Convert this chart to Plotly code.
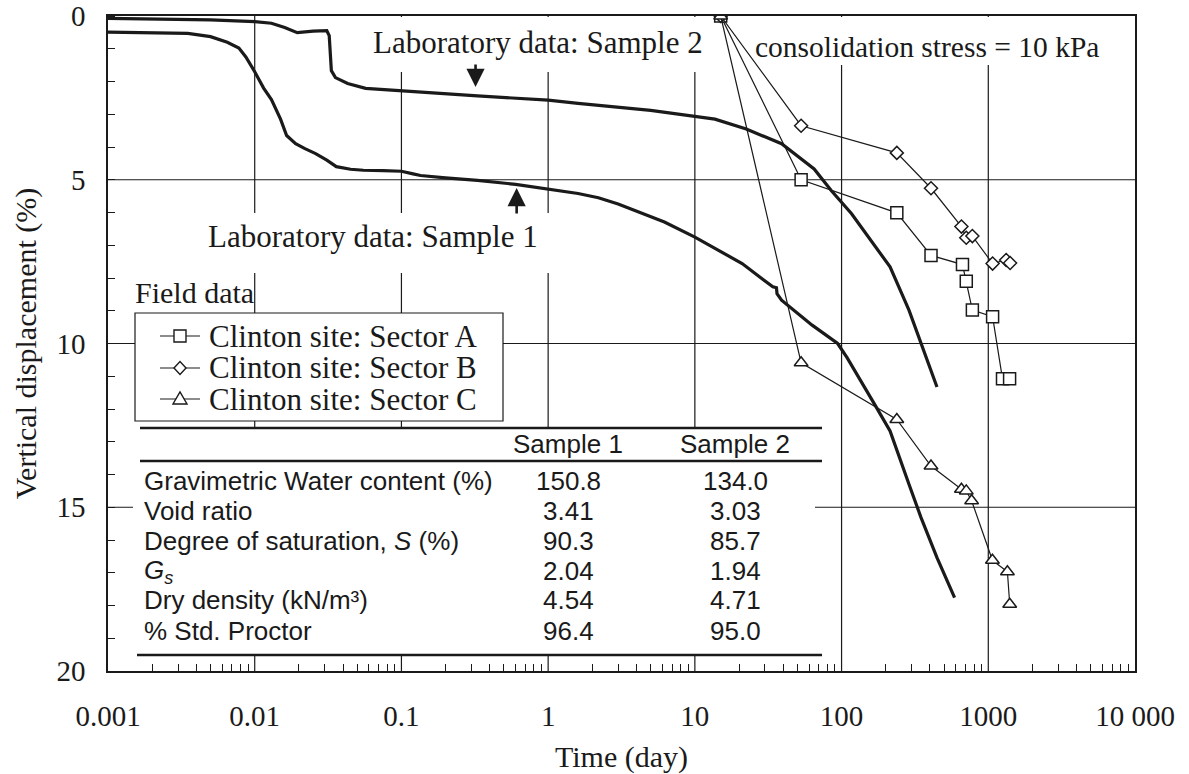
import numpy as np
import plotly.graph_objects as go

# ---------------- data ----------------
# Laboratory consolidation curves (time in days, vertical displacement in %)
lab1_time = [0.001, 0.002, 0.0035, 0.005, 0.0065, 0.0078, 0.0087, 0.01, 0.0115, 0.013,
             0.015, 0.0165, 0.019, 0.022, 0.026, 0.031, 0.036, 0.045, 0.055, 0.075,
             0.1, 0.12, 0.135, 0.2, 0.33, 0.6, 1.0, 1.6, 2.2, 3.0, 6.2, 10, 21, 34,
             36, 36.3, 39, 63, 94, 109, 168, 214, 288, 347, 447, 589]
lab1_disp = [0.49, 0.50, 0.53, 0.63, 0.80, 0.98, 1.25, 1.70, 2.20, 2.55,
             3.15, 3.65, 3.90, 4.05, 4.20, 4.40, 4.60, 4.68, 4.71, 4.72,
             4.74, 4.82, 4.87, 4.94, 5.02, 5.14, 5.28, 5.42, 5.55, 5.74, 6.29, 6.75, 7.56, 8.27,
             8.30, 8.48, 8.68, 9.44, 10.0, 10.43, 11.86, 12.67, 14.3, 15.3, 16.54, 17.76]

lab2_time = [0.001, 0.005, 0.01, 0.013, 0.016, 0.0195, 0.025, 0.031, 0.0322, 0.0328,
             0.0333, 0.0355, 0.043, 0.057, 0.1, 0.33, 1.0, 1.6, 5.0, 10, 13.7, 22.4,
             39, 65, 85, 117, 170, 214, 288, 347, 447]
lab2_disp = [0.07, 0.12, 0.17, 0.22, 0.35, 0.51, 0.46, 0.45, 0.60, 1.20,
             1.67, 1.88, 2.06, 2.21, 2.29, 2.44, 2.57, 2.67, 2.88, 3.05, 3.15, 3.45,
             3.90, 4.67, 5.33, 6.04, 7.06, 7.66, 8.98, 10.0, 11.33]

# Field settlement records, Clinton site
sectorA_time = [15, 53, 238, 407, 667, 708, 779, 1070, 1250, 1397]
sectorA_disp = [0, 5.0, 6.01, 7.31, 7.59, 8.1, 8.98, 9.18, 11.08, 11.08]
sectorB_time = [15, 53, 238, 407, 656, 708, 779, 1070, 1324, 1408]
sectorB_disp = [0, 3.35, 4.18, 5.26, 6.43, 6.77, 6.72, 7.56, 7.45, 7.54]
sectorC_time = [15, 53, 238, 407, 656, 708, 770, 1067, 1350, 1400]
sectorC_disp = [0, 10.59, 12.32, 13.74, 14.45, 14.5, 14.8, 16.62, 16.97, 17.96]

# Sample properties table
table_columns = ["Sample 1", "Sample 2"]
table_props = ["Gravimetric Water content (%)", "Void ratio",
               "Degree of saturation, <i>S</i> (%)", "<i>G<sub>s</sub></i>",
               "Dry density (kN/m³)", "% Std. Proctor"]
sample1_vals = ["150.8", "3.41", "90.3", "2.04", "4.54", "96.4"]
sample2_vals = ["134.0", "3.03", "85.7", "1.94", "4.71", "95.0"]

# Axis ticks
x_tickvals = [0.001, 0.01, 0.1, 1, 10, 100, 1000, 10000]
x_ticktext = ["0.001", "0.01", "0.1", "1", "10", "100", "1000", "10 000"]
y_tickvals = [0, 5, 10, 15, 20]

# Arrow pointers to the laboratory curves
arrow_time = [0.32, 0.61]
arrow_disp = [2.17, 5.25]

# ---------------- layout helpers ----------------
W, H = 1189, 774
ML, MR, MT, MB = 108, 54, 16, 103
PW = W - ML - MR
PH = H - MT - MB
XLOG = (-3, 4)
YRANGE = (20, 0)

def px(xp):
    """figure pixel column -> fraction of the x domain"""
    return (xp - ML) / PW

def py(yp):
    """figure pixel row -> fraction of the y domain"""
    return (MT + PH - yp) / PH

SERIF = "Liberation Serif, Times New Roman, serif"
SANS = "Liberation Sans, Arial, sans-serif"
INK = "#1a1a1a"
XR, YR = "x domain", "y domain"

fig = go.Figure()

for t, d in [(lab1_time, lab1_disp), (lab2_time, lab2_disp)]:
    fig.add_trace(go.Scatter(x=t, y=d, mode="lines", showlegend=False,
                             line=dict(color=INK, width=3.2)))

for t, d, sym, sz in [(sectorA_time, sectorA_disp, "square", 12),
                      (sectorB_time, sectorB_disp, "diamond", 10),
                      (sectorC_time, sectorC_disp, "triangle-up", 12)]:
    fig.add_trace(go.Scatter(x=t, y=d, mode="lines+markers", showlegend=False,
                             line=dict(color=INK, width=1.2),
                             marker=dict(symbol=sym, size=sz, color="white",
                                         line=dict(color=INK, width=1.5))))

shapes = []

# grid lines (drawn under the label backgrounds, which are drawn under the data)
for v in x_tickvals[1:-1]:
    f = (np.log10(v) - XLOG[0]) / (XLOG[1] - XLOG[0])
    shapes.append(dict(type="line", xref=XR, yref=YR, x0=f, x1=f, y0=0, y1=1,
                       line=dict(color=INK, width=1.2), layer="below"))
for v in y_tickvals[1:-1]:
    f = (v - YRANGE[0]) / (YRANGE[1] - YRANGE[0])
    shapes.append(dict(type="line", xref=XR, yref=YR, x0=0, x1=1, y0=f, y1=f,
                       line=dict(color=INK, width=1.2), layer="below"))

def white_box(x0, y0, x1, y1, border=False, layer="below"):
    shapes.append(dict(type="rect", xref=XR, yref=YR,
                       x0=px(x0), x1=px(x1), y0=py(y1), y1=py(y0),
                       fillcolor="white", layer=layer,
                       line=dict(color=INK if border else "rgba(0,0,0,0)",
                                 width=1.2 if border else 0)))

# label backgrounds that interrupt the grid
white_box(365, 17, 712, 72)
white_box(745, 17, 1110, 65)
white_box(200, 213, 556, 273)
# legend frame
white_box(135, 313, 503, 421, border=True)
# table background
white_box(133, 428, 815, 656)

# table rules
for x0, yline in [(140, 428), (140, 461), (137, 655)]:
    shapes.append(dict(type="line", xref=XR, yref=YR,
                       x0=px(x0), x1=px(822), y0=py(yline), y1=py(yline),
                       line=dict(color=INK, width=2.5), layer="above"))

# legend symbols
legend_rows = [336, 368, 399]
legend_paths = ["M -6,-6 L 6,-6 L 6,6 L -6,6 Z",
                "M -6,0 L 0,6.5 L 6,0 L 0,-6.5 Z",
                "M -7,-5 L 7,-5 L 0,7 Z"]
for yr, path in zip(legend_rows, legend_paths):
    shapes.append(dict(type="line", xref=XR, yref=YR,
                       x0=px(160), x1=px(200), y0=py(yr), y1=py(yr),
                       line=dict(color=INK, width=1.2), layer="above"))
    shapes.append(dict(type="path", xref=XR, yref=YR,
                       xsizemode="pixel", ysizemode="pixel",
                       xanchor=px(180), yanchor=py(yr), path=path,
                       fillcolor="white", line=dict(color=INK, width=1.4),
                       layer="above"))

annotations = []

def text(s, xp, yp, size, family=SERIF, xanchor="center"):
    annotations.append(dict(text=s, xref=XR, yref=YR, x=px(xp), y=py(yp),
                            xanchor=xanchor, yanchor="middle", showarrow=False,
                            font=dict(family=family, size=size, color=INK)))

text("Laboratory data: Sample 2", 538, 42, 31)
text("Laboratory data: Sample 1", 373, 237, 31)
text("consolidation stress = 10 kPa", 927, 47, 29.5)
text("Field data", 133, 292, 30, xanchor="left")
for yr, lab in zip(legend_rows, ["Clinton site: Sector A", "Clinton site: Sector B",
                                 "Clinton site: Sector C"]):
    text(lab, 207, yr, 31, xanchor="left")

# table contents
col_x = [568, 735]
for cx, name in zip(col_x, table_columns):
    text(name, cx, 444, 26, family=SANS)
row_y = [481, 511, 541, 571, 600, 631]
for ry, prop, v1, v2 in zip(row_y, table_props, sample1_vals, sample2_vals):
    text(prop, 142, ry, 26, family=SANS, xanchor="left")
    text(v1, col_x[0], ry, 26, family=SANS)
    text(v2, col_x[1], ry, 26, family=SANS)

# arrows
for t, d, ay in zip(arrow_time, arrow_disp, [-24, 27]):
    annotations.append(dict(x=np.log10(t), y=d, xref="x", yref="y", text="",
                            showarrow=True, ax=0, ay=ay, arrowhead=2, arrowsize=1.4,
                            arrowwidth=2.6, arrowcolor=INK, standoff=0))

minor_x = [k * 10.0 ** e for e in range(-3, 4) for k in range(2, 10)]

fig.update_layout(
    width=W, height=H,
    margin=dict(l=ML, r=MR, t=MT, b=MB, autoexpand=False),
    paper_bgcolor="white", plot_bgcolor="white",
    shapes=shapes, annotations=annotations,
    font=dict(family=SERIF, size=29, color=INK),
    xaxis=dict(type="log", range=list(XLOG), tickvals=x_tickvals, ticktext=x_ticktext,
               automargin=False, showgrid=False,
               showline=True, linecolor=INK, linewidth=1.5, mirror=True,
               ticks="", ticklabelstandoff=18, zeroline=False,
               tickfont=dict(family=SERIF, size=29, color=INK),
               minor=dict(ticks="inside", ticklen=7, tickwidth=1, tickcolor=INK,
                          tickvals=minor_x, showgrid=False),
               title=dict(text="Time (day)", standoff=15,
                          font=dict(family=SERIF, size=30, color=INK))),
    yaxis=dict(range=list(YRANGE), tickvals=y_tickvals, automargin=False, showgrid=False,
               showline=True, linecolor=INK, linewidth=1.5, mirror=True,
               ticks="", ticklabelstandoff=15, zeroline=False,
               tickfont=dict(family=SERIF, size=29, color=INK),
               minor=dict(ticks="inside", ticklen=7, tickwidth=1, tickcolor=INK,
                          dtick=1, showgrid=False),
               title=dict(text="Vertical displacement (%)", standoff=11,
                          font=dict(family=SERIF, size=30, color=INK))),
)

fig.write_html("out.html")
